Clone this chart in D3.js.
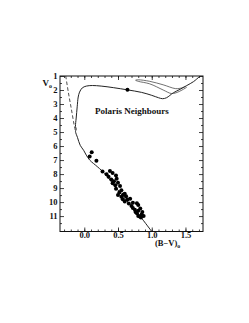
<!DOCTYPE html>
<html>
<head>
<meta charset="utf-8">
<script src="https://cdn.jsdelivr.net/npm/d3@7"></script>
<style>
  body { margin: 0; background: #fff; color: #111; }
  text { font-family: "Liberation Serif", "DejaVu Serif", serif; fill: #111; }
</style>
</head>
<body>
<div class="chart"></div>
<script>
// tick values / labels
const xTicks = [0, 0.5, 1.0, 1.5]
const xTickLabels = ["0.0", "0.5", "1.0", "1.5"]
const yTicks = [1, 2, 3, 4, 5, 6, 7, 8, 9, 10, 11]

// isochrone (solid) as [B-V, V]
const mainTrack = [
  [1.0, 12.1], [0.825, 11.0], [0.56, 9.5], [0.30, 7.95], [0.2, 7.5], [0.08, 7.0],
  [0.03, 6.65], [-0.01, 6.3], [-0.06, 5.95], [-0.10, 5.4], [-0.13, 4.95], [-0.12, 4.8],
  [-0.13, 4.6], [-0.12, 4.0], [-0.105, 3.2], [-0.09, 2.5], [-0.07, 2.15], [-0.03, 1.85],
  [0.03, 1.72], [0.12, 1.68], [0.25, 1.72], [0.43, 1.83], [0.64, 1.99], [0.85, 2.17],
  [1.0, 2.38], [1.1, 2.55], [1.16, 2.62], [1.22, 2.55], [1.32, 2.2], [1.42, 1.95],
  [1.52, 1.68], [1.62, 1.4], [1.71, 1.05], [1.76, 0.95]
]
// the thin blue loop near the top right
const loopTrack = [
  [1.50, 1.75], [1.42, 1.88], [1.35, 1.9], [1.17, 1.63], [0.97, 1.38], [0.80, 1.27],
  [0.76, 1.3], [0.80, 1.38], [0.97, 1.56], [1.17, 2.0], [1.29, 2.25], [1.36, 2.2],
  [1.45, 2.0], [1.52, 1.8]
]
// dashed line on the left
const dashTrack = [[-0.275, 1.0], [-0.235, 2.2], [-0.19, 3.4], [-0.15, 4.5], [-0.13, 4.95]]
// single marker on the track
const markerPoint = [[0.64, 1.99]]

// the stars
const stars = [
  [0.11, 6.45], [0.08, 6.74], [0.18, 7.05],
  [0.27, 7.82], [0.33, 8.02], [0.38, 7.78], [0.42, 7.92], [0.47, 8.10], [0.36, 8.2],
  [0.40, 8.38], [0.44, 8.52], [0.48, 8.34], [0.50, 8.62], [0.46, 8.80], [0.53, 8.86], [0.42, 8.65],
  [0.47, 9.05], [0.55, 9.15], [0.52, 9.32], [0.58, 9.45], [0.50, 9.50], [0.55, 9.62], [0.62, 9.58], [0.60, 9.40],
  [0.64, 9.82], [0.60, 9.95], [0.66, 10.10], [0.68, 9.76], [0.57, 9.80], [0.70, 10.28], [0.72, 10.05],
  [0.78, 10.08], [0.80, 10.2], [0.75, 10.55], [0.80, 10.62], [0.83, 10.45], [0.72, 10.42],
  [0.78, 10.80], [0.85, 10.88], [0.82, 11.03], [0.88, 11.0], [0.80, 11.0], [0.86, 10.7], [0.76, 10.7], [0.84, 11.1]
]

const W = 249, H = 323
const frame = {left: 60, right: 203, top: 76, bottom: 231.5}

const svg = d3.select(".chart").append("svg")
  .attr("width", W)
  .attr("height", H)

const x = d3.scaleLinear().domain([-0.36, 1.76]).range([frame.left, frame.right])
const y = d3.scaleLinear().domain([1, 12.1]).range([frame.top, frame.bottom])

svg.append("clipPath").attr("id", "plotclip")
  .append("rect")
  .attr("x", frame.left).attr("y", frame.top)
  .attr("width", frame.right - frame.left).attr("height", frame.bottom - frame.top)

const minorX = d3.range(-0.3, 1.75, 0.1)
const minorY = d3.range(1.5, 12.1, 1)

// axes, ticks pointing inwards
function addAxis(axis, tx, ty, labels) {
  const g = svg.append("g")
    .attr("transform", `translate(${tx},${ty})`)
    .call(axis)
  g.select(".domain").remove()
  g.selectAll("line").attr("stroke", "#111").attr("stroke-width", 0.8)
  if (!labels) g.selectAll("text").remove()
  return g
}

const xb = addAxis(d3.axisBottom(x).tickValues(xTicks).tickFormat((d, i) => xTickLabels[i])
  .tickSize(-4).tickPadding(1), 0, frame.bottom, true)
xb.selectAll("text").attr("font-size", 8.5).attr("font-weight", "bold").attr("fill", "#111").attr("dy", "0.62em")
addAxis(d3.axisBottom(x).tickValues(minorX).tickSize(-2), 0, frame.bottom, false)
addAxis(d3.axisTop(x).tickValues(xTicks).tickSize(-4), 0, frame.top, false)
addAxis(d3.axisTop(x).tickValues(minorX).tickSize(-2), 0, frame.top, false)

const yl = addAxis(d3.axisLeft(y).tickValues(yTicks).tickSize(-4).tickPadding(2.5), frame.left, 0, true)
yl.selectAll("text").attr("font-size", 8.5).attr("font-weight", "bold").attr("fill", "#111")
addAxis(d3.axisLeft(y).tickValues(minorY).tickSize(-2), frame.left, 0, false)
addAxis(d3.axisRight(y).tickValues(yTicks).tickSize(-4), frame.right, 0, false)
addAxis(d3.axisRight(y).tickValues(minorY).tickSize(-2), frame.right, 0, false)

svg.append("rect")
  .attr("x", frame.left).attr("y", frame.top)
  .attr("width", frame.right - frame.left).attr("height", frame.bottom - frame.top)
  .attr("fill", "none").attr("stroke", "#111").attr("stroke-width", 1)

const line = d3.line().x(d => x(d[0])).y(d => y(d[1])).curve(d3.curveCatmullRom)
const plot = svg.append("g").attr("clip-path", "url(#plotclip)")

plot.append("path").datum(mainTrack)
  .attr("d", line).attr("fill", "none").attr("stroke", "#222").attr("stroke-width", 1)
plot.append("path").datum(loopTrack)
  .attr("d", line).attr("fill", "none").attr("stroke", "#333").attr("stroke-width", 0.7)
plot.append("path").datum(dashTrack)
  .attr("d", line).attr("fill", "none").attr("stroke", "#222").attr("stroke-width", 0.8)
  .attr("stroke-dasharray", "3.5,2.2")

plot.selectAll(".star")
  .data(stars.concat(markerPoint))
  .enter()
  .append("circle")
  .attr("class", "star")
  .attr("cx", d => x(d[0]))
  .attr("cy", d => y(d[1]))
  .attr("r", 2)
  .attr("fill", "#000")

svg.append("text")
  .attr("x", 95).attr("y", 114)
  .attr("font-size", 9).attr("font-weight", "bold")
  .text("Polaris Neighbours")

const vl = svg.append("text")
  .attr("x", 42.5).attr("y", 86)
  .attr("font-size", 9).attr("font-weight", "bold")
vl.append("tspan").text("V")
vl.append("tspan").attr("font-size", 6).attr("dy", 2).text("o")

const bl = svg.append("text")
  .attr("x", 155).attr("y", 245.5)
  .attr("font-size", 8.5).attr("font-weight", "bold")
bl.append("tspan").text("(B\u2212V)")
bl.append("tspan").attr("font-size", 6).attr("dy", 2).text("o")
</script>
</body>
</html>
